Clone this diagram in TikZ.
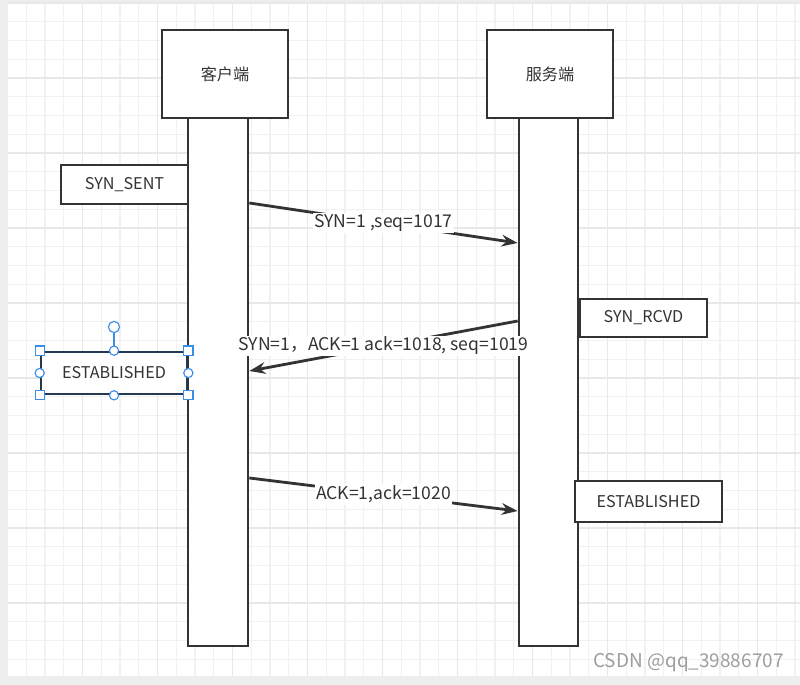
\documentclass[tikz,border=0pt]{standalone}
\usepackage{fontspec}
\setmainfont{Noto Sans CJK SC}
\usetikzlibrary{positioning,arrows.meta}
\definecolor{ink}{HTML}{333333}
\definecolor{outer}{HTML}{EEEEEE}
\definecolor{gridminor}{HTML}{F1F1F1}
\definecolor{gridmajor}{HTML}{E8E8E8}
\definecolor{selc}{HTML}{243A52}
\definecolor{hblue}{HTML}{3A8EE6}

\begin{document}
\begin{tikzpicture}[x=0.25mm,y=-0.25mm,
  font=\fontsize{11.5}{14}\selectfont,
  box/.style={draw=ink,line width=1.9pt,fill=white,text=ink,inner sep=0pt},
  msg/.style={draw=ink,line width=2pt,-{Stealth[length=4mm,width=2.9mm]}},
  lbl/.style={fill=white,text=ink,inner sep=1pt,font=\fontsize{12.5}{15}\selectfont},
  hsq/.style={draw=hblue,fill=white,line width=0.8pt,inner sep=0pt,minimum size=2.3mm},
  hdot/.style={hsq,circle}]
  \useasboundingbox (0,0) rectangle (800,685);
  \fill[outer] (0,0) rectangle (800,685);
  \fill[white] (7.5,3) rectangle (800,675.5);
  % grid
  \begin{scope}
    \clip (7.5,3) rectangle (800,675.5);
    \foreach \i in {0,...,42}{
      \draw[gridminor,line width=0.8pt] (7.5+\i*18.75,3) -- ++(0,672.5);
    }
    \foreach \j in {0,...,36}{
      \draw[gridminor,line width=0.8pt] (7.5,3+\j*18.75) -- ++(792.5,0);
    }
    \foreach \i in {0,...,10}{
      \draw[gridmajor,line width=0.8pt] (7.5+\i*75,3) -- ++(0,672.5);
    }
    \foreach \j in {0,...,9}{
      \draw[gridmajor,line width=0.8pt] (7.5,3+\j*75) -- ++(792.5,0);
    }
  \end{scope}

  % heads and lifelines
  \node[box,minimum width=31.5mm,minimum height=22mm] (client) at (225,74) {客户端};
  \node[box,minimum width=31.5mm,minimum height=22mm] (server) at (550,74) {服务端};
  \node[box,minimum width=15mm,minimum height=132mm] (clientline) at (218,382) {};
  \node[box,minimum width=14.75mm,minimum height=132mm] (serverline) at (548.5,382) {};

  % states
  \node[box,minimum width=31.75mm,minimum height=9.75mm] (synsent) at (124.5,184.5) {SYN\_SENT};
  \node[box,minimum width=31.75mm,minimum height=9.5mm] (synrcvd) at (643.5,318) {SYN\_RCVD};
  \node[box,minimum width=36.75mm,minimum height=10.25mm] (estabs) at (648.5,501.5) {ESTABLISHED};
  \node[box,draw=selc,minimum width=36.5mm,minimum height=10.5mm] (estabc) at (114,373) {ESTABLISHED};

  % selection handles
  \node[hdot,minimum size=2.8mm] (rot) at (114,327) {};
  \draw[hblue,line width=0.8pt] (rot) -- (estabc.north);
  \foreach \a in {north west,north east,south west,south east}
    \node[hsq] at (estabc.\a) {};
  \foreach \a in {north,south,east,west}
    \node[hdot] at (estabc.\a) {};

  % handshake
  \draw[msg] (clientline.east |- 0,203) -- node[lbl] {SYN=1 ,seq=1017} (serverline.west |- 0,243);
  \draw[msg] (serverline.west |- 0,321) -- node[lbl] {SYN=1，ACK=1 ack=1018, seq=1019} (clientline.east |- 0,371);
  \draw[msg] (clientline.east |- 0,478) -- node[lbl] {ACK=1,ack=1020} (serverline.west |- 0,511);

  \node[text=black!38,font=\fontsize{13.5}{16}\selectfont] (mark) at (688.5,663) {CSDN @qq\_39886707};
\end{tikzpicture}
\end{document}
